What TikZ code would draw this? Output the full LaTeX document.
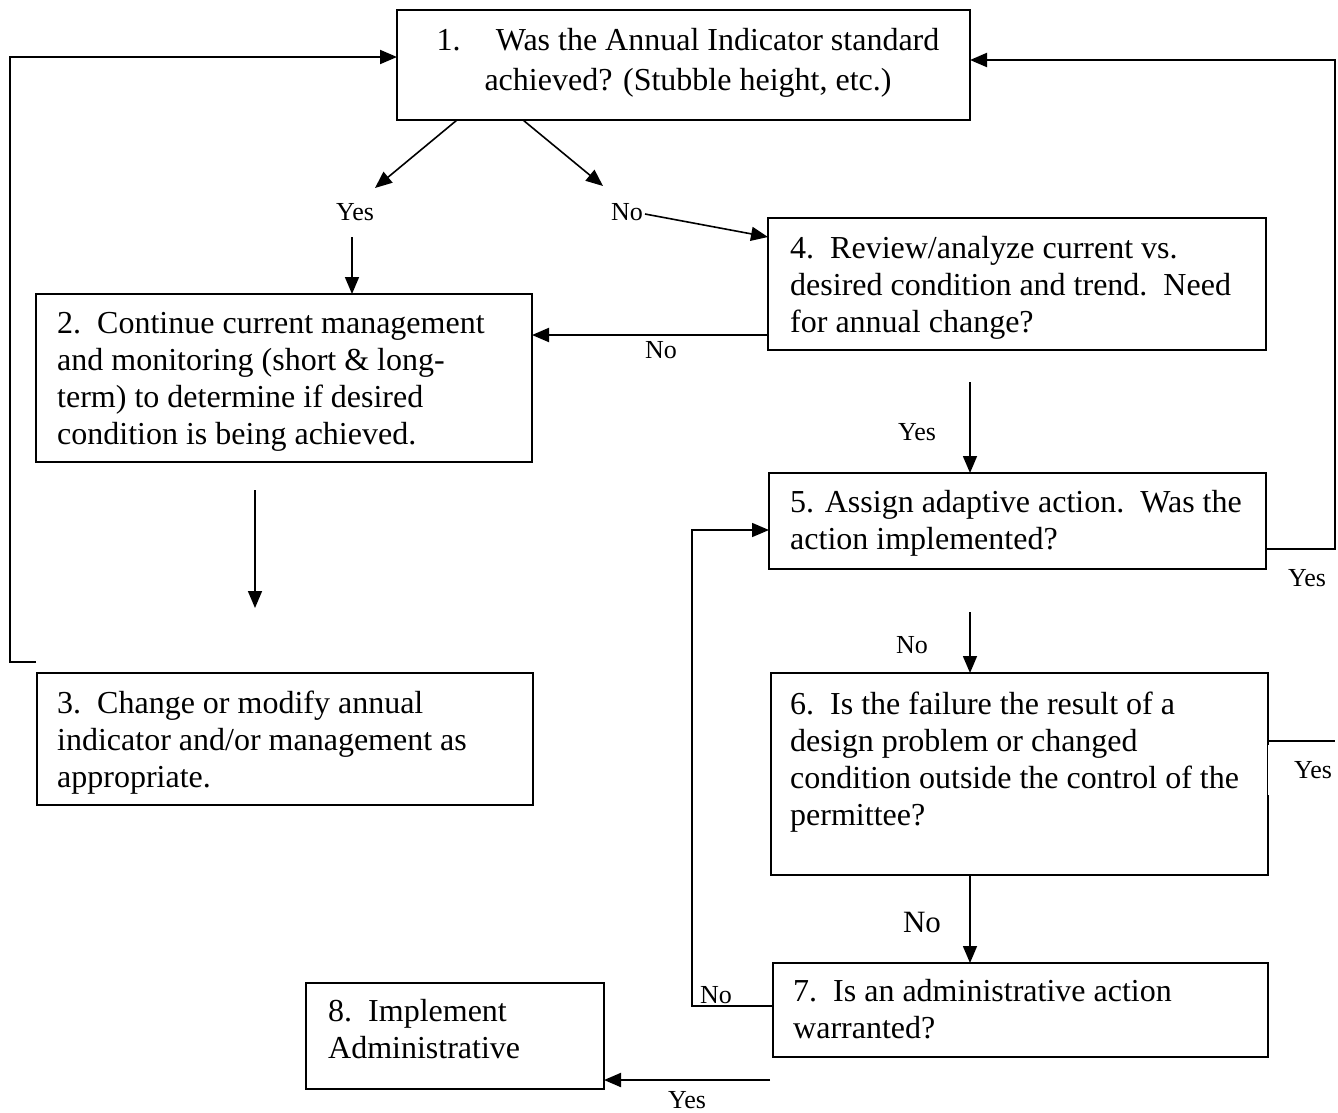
\documentclass[tikz,border=0pt]{standalone}
\usepackage{fontspec}
\setmainfont{Liberation Serif}
\usetikzlibrary{arrows.meta,calc}
\begin{document}
\begin{tikzpicture}[x=1pt,y=1pt,
  box/.style={draw,line width=2.4pt,inner sep=0pt,outer sep=0pt,anchor=north west},
  txt/.style={inner sep=0pt,anchor=base west,align=left,font=\fontsize{32}{37}\selectfont},
  lbl/.style={inner sep=1pt,font=\fontsize{26}{28}\selectfont},
  con/.style={line width=2pt},
  arr/.style={line width=2pt,-{Triangle[length=17pt,width=14pt]}},
  thin/.style={line width=1.6pt,-{Triangle[length=17pt,width=14pt]}}]
\useasboundingbox (0,0) rectangle (1338,-1112);
% boxes
\node[box,minimum width=573pt,minimum height=110pt] (b1) at (397,-10) {};
\node[box,minimum width=496pt,minimum height=168pt] (b2) at (36,-294) {};
\node[box,minimum width=496pt,minimum height=132pt] (b3) at (37,-673) {};
\node[box,minimum width=498pt,minimum height=132pt] (b4) at (768,-218) {};
\node[box,minimum width=497pt,minimum height=96pt] (b5) at (769,-473) {};
\node[box,minimum width=497pt,minimum height=202pt] (b6) at (771,-673) {};
\node[box,minimum width=495pt,minimum height=94pt] (b7) at (773,-963) {};
\node[box,minimum width=298pt,minimum height=106pt] (b8) at (306,-983) {};
% texts (anchored at the baseline of their last line)
\node[txt,anchor=base,align=center,font=\fontsize{32}{40}\selectfont] (t1) at (688,-90)
  {1.\hspace{1.1em}Was the Annual Indicator standard\\achieved? (Stubble height, etc.)};
\node[txt] (t2) at (57,-444) {2.\ \ Continue current management\\and monitoring (short \& long-\\term) to determine if desired\\condition is being achieved.};
\node[txt] (t3) at (57,-787) {3.\ \ Change or modify annual\\indicator and/or management as\\appropriate.};
\node[txt] (t4) at (790,-332) {4.\ \ Review/analyze current vs.\\desired condition and trend.\ \ Need\\for annual change?};
\node[txt] (t5) at (790,-549) {5. Assign adaptive action.\ \ Was the\\action implemented?};
\node[txt] (t6) at (790,-825) {6.\ \ Is the failure the result of a\\design problem or changed\\condition outside the control of the\\permittee?};
\node[txt] (t7) at (793,-1038) {7.\ \ Is an administrative action\\warranted?};
\node[txt] (t8) at (328,-1058) {8.\ \ Implement\\Administrative};
% labels
\node[lbl] (yA) at (355,-212) {Yes};
\node[lbl] (nA) at (627,-212) {No};
\node[lbl] (nB) at (661,-350) {No};
\node[lbl] (yB) at (917,-432) {Yes};
\node[lbl] (nC) at (912,-645) {No};
\node[lbl,font=\fontsize{31}{33}\selectfont] (nD) at (922,-922) {No};
\node[lbl] (nE) at (716,-995) {No};
\node[lbl] (yE) at (687,-1100) {Yes};
\node[lbl] (yC) at (1307,-578) {Yes};
% coordinates
\coordinate (ya1) at (375,-188);
\coordinate (ya2) at (352,-237);
\coordinate (na1) at (603,-186);
\coordinate (na2) at (645,-214);
\coordinate (c2a) at (255,-490);
\coordinate (c2b) at (255,-608);
\coordinate (c3) at (36,-662);
\coordinate (c4) at (970,-382);
\coordinate (c5) at (970,-612);
\coordinate (c7) at (770,-1080);
\coordinate (rr) at (1335,-549);
\coordinate (r6) at (1335,-741);
\coordinate (lp) at (692,-1006);
\coordinate (lq) at (692,-530);
% connectors
\draw[thin] ([xshift=60pt]b1.south west) -- (ya1);
\draw[thin] ([xshift=126pt]b1.south west) -- (na1);
\draw[thin] (ya2) -- (b2.north -| ya2);
\draw[thin] (na2) -- ([yshift=-19pt]b4.north west);
\draw[arr] ([yshift=15pt]b4.south west) -- ([yshift=15pt]b4.south west -| b2.east);
\draw[thin] (c2a) -- (c2b);
\draw[arr] (c3) -- (10,-662) |- ([yshift=8pt]b1.west);
\draw[thin] (c4) -- (b5.north -| c4);
\draw[arr] (b5.east |- rr) -- (rr) |- ([yshift=5pt]b1.east);
\draw[con] (b6.east |- r6) -- (r6);
\draw[thin] (c5) -- (b6.north -| c5);
\draw[thin] (b6.south -| c5) -- (b7.north -| c5);
\draw[thin] (b7.west |- lp) -- (lp) -- (lq) -- (b5.west |- lq);
\draw[arr] (c7) -- (b8.east |- c7);
% Yes label with white backing over box 6 edge
\node[lbl,fill=white,text width=62pt,align=right,minimum height=50pt,inner sep=2pt] (yD) at (1301,-770) {Yes};
\end{tikzpicture}
\end{document}
